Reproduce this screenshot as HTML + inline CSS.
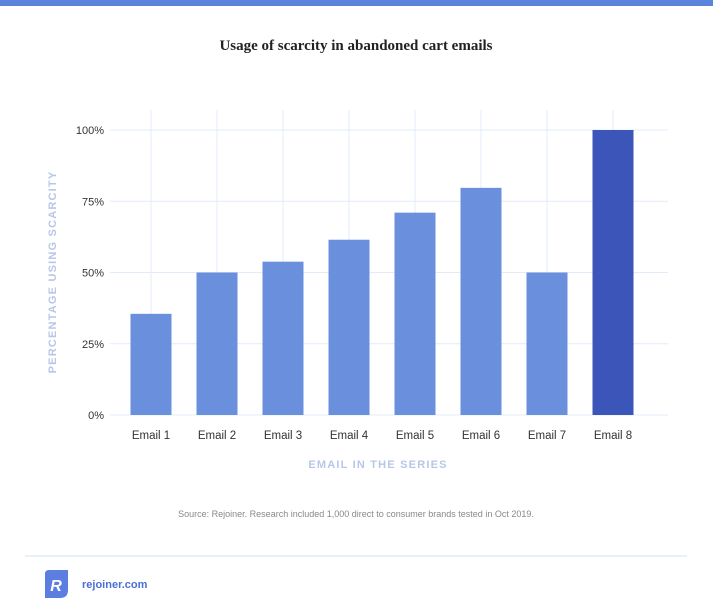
<!DOCTYPE html>
<html><head><meta charset="utf-8"><style>
body{margin:0;width:713px;height:600px;background:#fff;overflow:hidden;font-family:"Liberation Sans",sans-serif}
</style></head><body>
<svg id="c" width="713" height="600">
<rect x="0" y="0" width="713" height="6" fill="#5b85dc"/>
<text x="356" y="50" text-anchor="middle" font-family="Liberation Serif,serif" font-weight="bold" font-size="15" fill="#222">Usage of scarcity in abandoned cart emails</text>
<g id="grid"></g><g id="bars"></g><g id="labels"></g>
<text transform="translate(56,272) rotate(-90)" text-anchor="middle" font-size="11" font-weight="bold" letter-spacing="1.2" fill="#b8c6e8">PERCENTAGE USING SCARCITY</text>
<text x="378" y="468" text-anchor="middle" font-size="11" font-weight="bold" letter-spacing="1.2" fill="#b8c6e8">EMAIL IN THE SERIES</text>
<text x="356" y="517" text-anchor="middle" font-size="9" fill="#888">Source: Rejoiner. Research included 1,000 direct to consumer brands tested in Oct 2019.</text>
<line x1="25" y1="556" x2="687" y2="556" stroke="#e3ebfa" stroke-width="1.5"/>
<g><path d="M49 570 H68 V590 Q68 598 60 598 H45 V574 Q45 570 49 570 Z" fill="#5b7ee0"/>
<text x="56" y="591" text-anchor="middle" font-size="16" font-weight="bold" font-style="italic" fill="#fff">R</text></g>
<text x="82" y="588" font-size="11" font-weight="bold" fill="#4b6fd6">rejoiner.com</text>
</svg>
<script>
const categories=["Email 1","Email 2","Email 3","Email 4","Email 5","Email 6","Email 7","Email 8"];
const values=[35.5,50,53.8,61.5,71,79.7,50,100];
const yTicks=[0,25,50,75,100];
const yTickLabels=["0%","25%","50%","75%","100%"];
const NS="http://www.w3.org/2000/svg";
const y=v=>415-v*2.85, x=i=>151+66*i;
function mk(t,a,p,txt){const e=document.createElementNS(NS,t);for(const k in a)e.setAttribute(k,a[k]);if(txt!=null)e.textContent=txt;document.getElementById(p).appendChild(e);return e;}
categories.forEach((c,i)=>{
 const l=mk('line',{x1:x(i),x2:x(i),y1:110,y2:415,stroke:'#e3ebfa'},'grid');
 
 
});
yTicks.forEach((t,i)=>{
 const l=mk('line',{x1:110,x2:668,y1:y(t),y2:y(t),stroke:'#e3ebfa'},'grid');
 
 
 const tx=mk('text',{x:104,y:y(t)+4,'text-anchor':'end','font-size':11,fill:'#333'},'labels',yTickLabels[i]);
 
 
});
values.forEach((v,i)=>{
 const r=mk('rect',{x:x(i)-20.5,y:y(v),width:41,height:y(0)-y(v),fill:i===7?'#3b55b8':'#6a8fdc'},'bars');
 
 
 const tx=mk('text',{x:x(i),y:439,'text-anchor':'middle','font-size':11.5,fill:'#333'},'labels',categories[i]);
 
 
});
</script>
</body></html>
